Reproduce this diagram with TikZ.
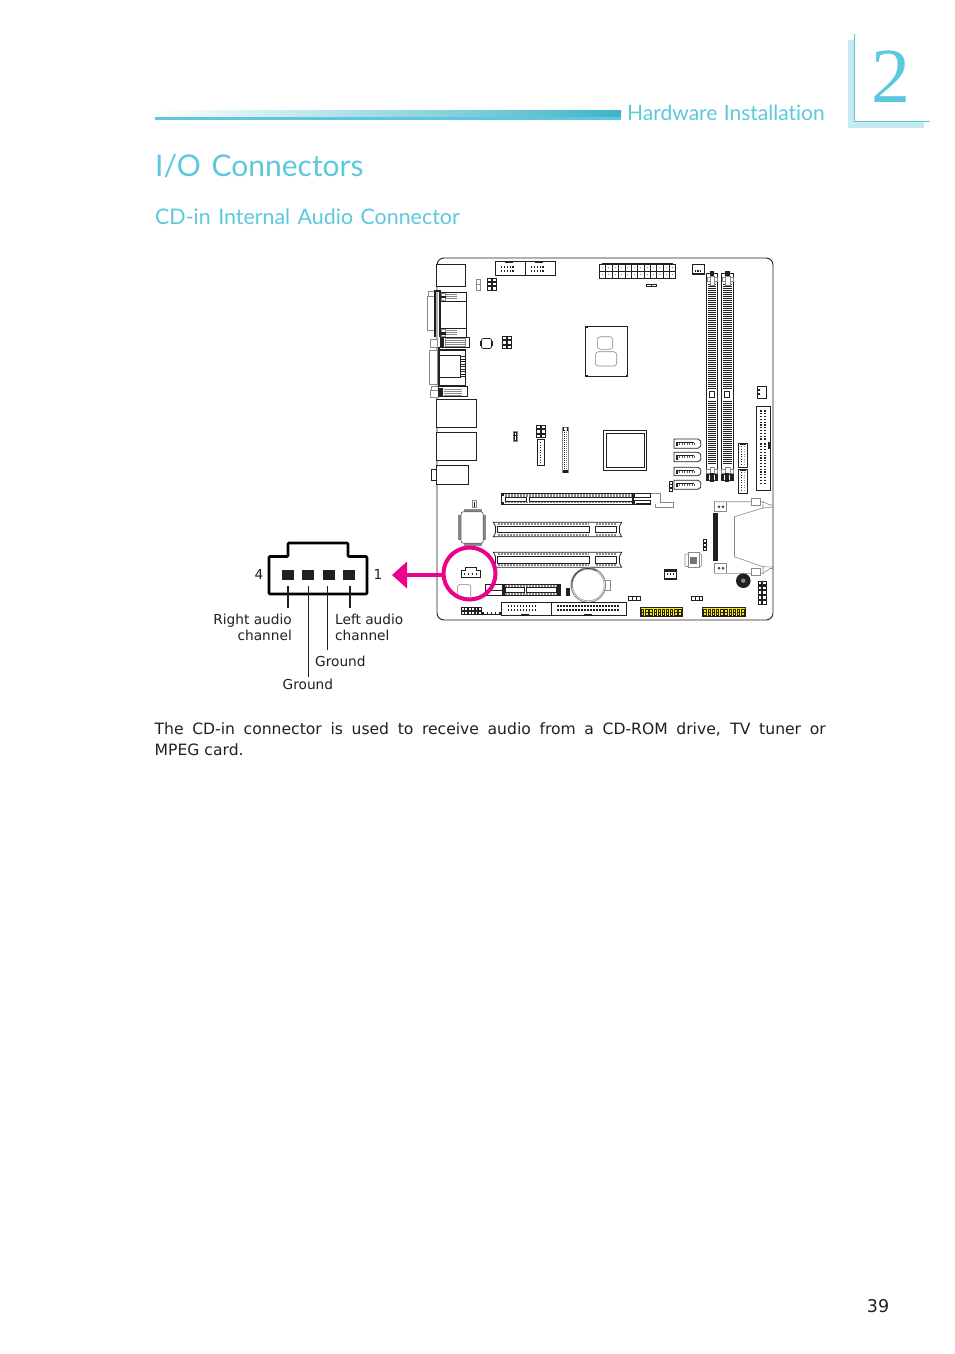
\documentclass[tikz,border=0pt]{standalone}
\usepackage{fontspec}
\setmainfont{DejaVu Sans}
\newfontfamily\headf[Ligatures=NoCommon]{Lato}
\newfontfamily\numf{Liberation Serif}
\usetikzlibrary{arrows.meta}
\definecolor{cy}{HTML}{5BC8DE}
\definecolor{cyl}{HTML}{C5EAF2}
\definecolor{cyd}{HTML}{3FB4C8}
\definecolor{pk}{HTML}{EC008C}
\definecolor{ink}{HTML}{231F20}
\definecolor{gr}{HTML}{8A8A8A}
\definecolor{yl}{HTML}{FFF200}
\tikzset{
  bd/.style={draw=ink,line width=0.75pt},
  gl/.style={draw=gr,line width=0.6pt},
  thn/.style={draw=ink,line width=0.45pt},
  lab/.style={font=\fontsize{13.7}{15}\selectfont,text=ink,inner sep=0pt,align=left},
  wire/.style={draw=ink,line width=1.3pt},
}
\newcommand\bx[4]{\draw[bd,fill=white] (#1,#2) rectangle (#3,#4);}
\newcommand\gx[4]{\draw[gl,fill=white] (#1,#2) rectangle (#3,#4);}
\newcommand\fb[4]{\fill[ink] (#1,#2) rectangle (#3,#4);}
\newcommand\blackgrid[6]{%
  \fill[ink] (#1,#2) rectangle (#3,#4);
  \pgfmathsetmacro\gdx{(#3-#1)/#5}\pgfmathsetmacro\gdy{(#4-#2)/#6}
  \foreach \gi in {1,...,#5}{\foreach \gj in {1,...,#6}{
    \pgfmathsetmacro\gxa{#1+(\gi-1)*\gdx+0.22*\gdx}\pgfmathsetmacro\gya{#2+(\gj-1)*\gdy+0.22*\gdy}
    \pgfmathsetmacro\gxb{#1+\gi*\gdx-0.22*\gdx}\pgfmathsetmacro\gyb{#2+\gj*\gdy-0.22*\gdy}
    \fill[white] (\gxa,\gya) rectangle (\gxb,\gyb);}}}
\newcommand\dotgrid[6]{% x0 dx nx y0 dy ny
  \foreach \gi in {1,...,#3}{\foreach \gj in {1,...,#6}{
    \pgfmathsetmacro\gxa{#1+(\gi-1)*#2}\pgfmathsetmacro\gya{#4+(\gj-1)*#5}
    \fill[ink] (\gxa-0.65,\gya-0.65) rectangle (\gxa+0.65,\gya+0.65);}}}
\newcommand\sata[2]{% y0 y1
  \draw[bd,fill=white] (674,#1) -- (698,#1) -- (700.7,#1+2) -- (700.7,#2-2) -- (698,#2) -- (674,#2) -- cycle;
  \draw[draw=ink,line width=0.8pt] (676,#1+3) -- (694,#1+3);
  \fb{676}{#1+3}{677.5}{#2-2}
  \foreach \sx in {679,681.5,...,694}{\fill[ink!75] (\sx,#1+4) rectangle (\sx+1,#1+5.5);}}
\newcommand\dimm[2]{% x0 x1
  \draw[bd,fill=white] (#1,273) rectangle (#2,480.7);
  \foreach \dy in {284,286,...,388,401,403,...,463}{\draw[draw=ink,line width=0.95pt] (#1+1.8,\dy) -- (#2-1.8,\dy);}
  \draw[bd] (#1+3,391.7) rectangle (#1+7.6,397.3);
  \draw[gl,fill=white] (#1+0.5,277) rectangle (#2-0.5,281.5);
  \draw[gl,fill=white] (#1+3.5,276) rectangle (#2-3.5,285);
  \fb{#1+3.5}{270.5}{#2-3.5}{276}
  \draw[gl,fill=white] (#1,469) rectangle (#2,473.5);
  \draw[gl,fill=white] (#1+3.5,467) rectangle (#2-3.5,473.5);
  \fb{#1+0.5}{474}{#2-0.5}{480.7}
  \fill[white] (#1+3,474.5) rectangle (#1+4.5,480);
  \fill[white] (#2-4.5,474.5) rectangle (#2-3,480);
  \fb{#1+4}{473}{#2-4}{481.5}}
\newcommand\pcislot[2]{% y0 y1
  \draw[bd,fill=white] (493.3,#1) -- (621.7,#1) -- (619.5,#1+4) -- (619.5,#2-4) -- (621.7,#2) -- (493.3,#2) -- (495.5,#2-4) -- (495.5,#1+4) -- cycle;
  \draw[bd] (497.3,#1+4) rectangle (589.7,#2-4);
  \draw[bd] (595.3,#1+4) -- (616.7,#1+4) -- (616.7,#2-4) -- (595.3,#2-4) -- cycle;
  \foreach \px in {498,499.5,...,589}{\draw[draw=gr,line width=0.5pt] (\px,#1+1) -- (\px,#1+3);\draw[draw=gr,line width=0.5pt] (\px,#2-3) -- (\px,#2-1);}
  \foreach \px in {596,597.5,...,616}{\draw[draw=gr,line width=0.5pt] (\px,#1+1) -- (\px,#1+3);\draw[draw=gr,line width=0.5pt] (\px,#2-3) -- (\px,#2-1);}}
\newcommand\yel[2]{% x0 x1
  \fill[yl] (#1,607.7) rectangle (#2,616.7);
  \draw[thn] (#1,607.7) rectangle (#2,616.7);
  \foreach \yx in {0,1,...,9}{
    \pgfmathsetmacro\ya{#1+1+\yx*(#2-#1-1)/10}
    \draw[thn] (\ya,609.5) rectangle (\ya+2.4,612);
    \draw[thn] (\ya,612.3) rectangle (\ya+2.4,615);}}
\begin{document}
\begin{tikzpicture}[x=1pt,y=-1pt]
\useasboundingbox (0,0) rectangle (954,1354);
\fill[white] (0,0) rectangle (954,1354);
%% header
\fill[cyl] (848,40) rectangle (854,128);
\fill[cyl] (848,122) rectangle (924,128);
\draw[draw=cy,line width=0.9pt] (854.5,34) -- (854.5,121.7) -- (930,121.7);
\shade[left color=white,right color=cyd] (155,110) rectangle (621,117.3);
\fill[cy] (155,117.3) rectangle (621,120);
\node[anchor=base,inner sep=0pt,text=cy,font=\numf\fontsize{78}{78}\selectfont] (chap) at (890.5,102) {2};
\node[anchor=base west,inner sep=0pt,text=cy,font=\headf\fontsize{21}{24}\selectfont] (hw) at (627,120) {Hardware\hspace{1pt} Installation};
\node[anchor=base west,inner sep=0pt,text=cy,font=\headf\fontsize{30}{34}\selectfont] (io) at (155,176) {I/O\hspace{3pt} Connectors};
\node[anchor=base west,inner sep=0pt,text=cy,font=\headf\fontsize{21.4}{26}\selectfont] (cd) at (155,224) {CD-in\hspace{2pt} Internal\hspace{2pt} Audio\hspace{2pt} Connector};
%% board
\draw[draw=ink,line width=0.9pt,rounded corners=7pt] (437,258) -- (773,258) -- (773,620) -- (437,620) -- cycle;
%% I/O back panel
\bx{436.3}{264}{465.7}{286.7}
\gx{427.3}{296.7}{435}{330.7}\gx{428.5}{291.5}{435}{296.7}
\bx{440.7}{292.3}{466.7}{337.3}
\draw[bd] (440.7,301) -- (466.7,301) (440.7,328) -- (466.7,328);
\fb{434.3}{290}{436}{337.3}\fb{439}{290}{440.7}{337.3}\fb{434.3}{290}{440.7}{292}
\gx{441}{293}{445}{300}\gx{441}{329}{445}{336}
\fb{441}{295.5}{446}{298}\fb{441}{332}{446}{334.5}
\foreach \ty in {294,296,298,330,332,334}{\draw[gl] (446,\ty) -- (457,\ty);}
\gx{430}{339}{437}{347.7}
\bx{440}{337.3}{469.3}{347.7}
\draw[gl] (445,338.5) rectangle (465,346);
\foreach \ty in {340,342,344}{\draw[gl] (445,\ty) -- (465,\ty);}
\fb{440}{338}{444}{347.7}
\gx{429.3}{350}{437.3}{384.3}
\fb{437.7}{347}{439.7}{388}
\bx{439.7}{349}{465}{385}
\fb{439.7}{349}{465}{351}
\draw[draw=ink,line width=1pt] (440,355) -- (460,355) -- (460,377) -- (440,377);
\foreach \ty in {356,358.5,...,376}{\fill[ink] (460,\ty) rectangle (465,\ty+1.2);}
\gx{431}{386}{438}{393}\gx{430.5}{390}{438}{397}
\bx{438.3}{386.7}{467.7}{396.7}
\fb{438.3}{388}{443}{396.7}
\foreach \ty in {389,391,393,395}{\draw[gl] (444,\ty) -- (462,\ty);}
\bx{436.3}{399.3}{476.7}{427.7}
\bx{436.3}{432.3}{476.7}{460.3}
\bx{436.3}{465.3}{468.3}{484.3}
\bx{431.3}{469.3}{436.3}{480.3}
%% top headers
\bx{495.3}{261.3}{555.7}{275.3}\draw[bd] (525.3,261.3) -- (525.3,275.3);
\fb{505}{261.3}{513}{262.8}\fb{535}{261.3}{543}{262.8}
\dotgrid{501.5}{2.9}{5}{267}{4}{2}\dotgrid{531.5}{2.9}{5}{267}{4}{2}
\draw[gl] (476.7,279) rectangle (480.7,290);\draw[gl] (476.7,284.5) -- (480.7,284.5);
\blackgrid{486.7}{277.7}{496.7}{290.7}{2}{3}
\draw[bd,rounded corners=2pt] (481.5,338.5) rectangle (491.5,348.5);
\fb{480}{341}{481.5}{346}\fb{491.5}{341}{492.7}{346}
\blackgrid{502.3}{336}{512.3}{349.3}{2}{3}
%% power
\fb{601.7}{262.5}{673}{264.5}
\draw[bd,fill=white] (599.3,264) rectangle (675.7,278.3);
\foreach \pi in {1,...,11}{\pgfmathsetmacro\pxx{599.3+\pi*6.367}\draw[thn] (\pxx,264) -- (\pxx,278.3);}
\draw[thn] (599.3,271) -- (675.7,271);
\foreach \pi in {1,...,12}{\pgfmathsetmacro\pxx{596.1+\pi*6.367}\fill[gr] (\pxx-0.5,267) rectangle (\pxx+0.5,268);\fill[gr] (\pxx-0.5,274) rectangle (\pxx+0.5,275);}
\fb{645.7}{284}{657.3}{287.3}\fill[white] (647,285) rectangle (650.5,286.3);\fill[white] (651.5,285) rectangle (656,286.3);
\draw[draw=ink,line width=1.1pt] (692.5,264.5) rectangle (704.5,274);
\dotgrid{695.5}{2.5}{3}{271}{1}{1}
%% CPU
\draw[bd] (585.3,326) rectangle (627.7,376.7);
\fb{585.3}{326}{587.5}{328}\fb{585.3}{374.5}{587.5}{376.7}\fb{625.5}{374.5}{627.7}{376.7}
\draw[gl,rounded corners=3pt] (597.3,336.7) rectangle (612.7,349.3);
\draw[gl,rounded corners=3pt] (595.3,351.7) rectangle (616.7,366);
%% DIMM
\dimm{706.3}{717.7}\dimm{721.3}{733.3}
%% right side
\draw[bd,line width=1pt] (757.3,386) rectangle (766.7,398.7);
\fb{757.3}{389}{760}{391}\fb{757.3}{393}{760}{395}
\bx{756.3}{406.3}{770.7}{490}
\dotgrid{761}{4}{2}{411}{2.8}{11}\dotgrid{761}{4}{2}{444}{2.8}{15}
\fb{768.3}{441.5}{770.7}{449}
%% mid chips
\draw[gl] (513.3,431) rectangle (517.3,441);\fb{513.3}{435}{517.3}{436}\draw[thn] (514.3,432) rectangle (516.3,440);
\blackgrid{535.7}{425}{545.7}{438.3}{2}{3}
\bx{537}{439.3}{544.3}{465.3}
\foreach \my in {442,444.5,...,464}{\fill[ink] (540.3,\my) rectangle (541.3,\my+1.2);}
\draw[gl,fill=white] (562,427) rectangle (568.7,472.7);
\foreach \my in {430,432,...,470}{\fill[ink] (563.6,\my) rectangle (564.8,\my+1);\fill[gr] (566,\my) rectangle (567,\my+1);}
\fb{562.5}{470}{568.2}{472.7}\fb{562.5}{427}{563.5}{431}\fb{567.2}{427}{568.2}{431}
\draw[draw=ink,line width=0.9pt] (603.3,430) rectangle (646.7,470);
\draw[draw=ink,line width=0.9pt] (606,433) rectangle (644,467);
\sata{439}{448.3}\sata{452.3}{461.7}\sata{467.3}{475.7}\sata{480.3}{489.3}
\blackgrid{669}{481}{672.7}{491.7}{1}{3}
\foreach \vy/\vz in {443.3/467.3,469/493.3}{
  \bx{738.3}{\vy}{747.3}{\vz}
  \fb{740}{\vy}{745.5}{\vy+2}
  \foreach \my in {2,4.5,...,21}{\fill[ink] (740.8,\vy+\my+1) rectangle (741.8,\vy+\my+2);\fill[gr] (744,\vy+\my+1) rectangle (745,\vy+\my+2);}}
%% PCIe x16
\draw[gl] (650,493.3) -- (660,493.3) -- (660,502.7) -- (673,502.7) -- (673,507.3) -- (655,507.3) -- (655,504);
\draw[bd,fill=white] (501,493.3) rectangle (633,504);
\fb{501}{493.3}{504}{495.5}\fb{501}{501.5}{504}{504}\fb{632}{493.3}{634}{504.3}
\draw[bd] (505,497.7) rectangle (526.7,501);
\draw[bd] (529,497.7) rectangle (632,501);
\foreach \px in {505,506.5,...,632}{\draw[draw=gr,line width=0.5pt] (\px,494.3) -- (\px,497);\draw[draw=gr,line width=0.5pt] (\px,501.7) -- (\px,503.3);}
\draw[bd,fill=white] (634,493.3) rectangle (650,497.5);
\draw[bd,fill=white] (634,500) rectangle (650,504);\fb{636}{503}{650}{504.4}
%% PCI
\pcislot{522.3}{536.7}\pcislot{552.3}{567.3}
%% SIO chip
\fill[gr] (458.3,515) rectangle (461,540);\fill[gr] (483.3,515) rectangle (486,540);
\fill[gr] (464,509) rectangle (481.7,511.7);\fill[gr] (464,543.3) rectangle (481.7,546);
\draw[draw=ink!70,line width=0.7pt,rounded corners=2.5pt] (461,511.7) rectangle (483.3,543.3);
\draw[gl] (472.7,500.7) rectangle (476,507.7);\fb{473.5}{502}{475.2}{506.5}
%% CD-in connector in board
\draw[bd] (461,570) -- (465.7,570) -- (465.7,567.3) -- (476.7,567.3) -- (476.7,570) -- (480.7,570) -- (480.7,577.7) -- (461,577.7) -- cycle;
\dotgrid{464.5}{4}{4}{574}{1}{1}
\draw[gl,rounded corners=3pt] (457.3,596.7) -- (457.3,584.3) -- (470.7,584.3) -- (470.7,596.7);
%% M.2
\draw[bd,fill=white] (485.3,584.3) rectangle (503,595.7);\draw[bd] (485.3,590) -- (503,590);
\draw[bd,fill=white] (503,584) rectangle (560,595.7);
\fb{501.7}{584}{505}{595.7}\fb{556.7}{584}{560}{595.7}
\draw[bd] (505,587.7) rectangle (524,592.7);\draw[bd] (526,587.7) rectangle (556.7,592.7);
\foreach \px in {505,506.5,...,556}{\draw[draw=gr,line width=0.5pt] (\px,585) -- (\px,587);\draw[draw=gr,line width=0.5pt] (\px,593.3) -- (\px,595);}
\fb{566}{587.7}{570}{595.7}
%% battery
\draw[gl,fill=white] (603,580) -- (610.7,580) -- (610.7,590) -- (603,590);
\draw[draw=gr,line width=1pt,fill=white] (588.3,585) circle[radius=17.3];
\draw[draw=gr,line width=0.5pt] (588.3,585) circle[radius=15.8];
\draw[draw=ink,line width=0.6pt,domain=170:300,samples=30] plot ({588.3+16.5*cos(\x)},{585+16.5*sin(\x)});
%% bottom left
\blackgrid{461}{606.7}{481.7}{615.3}{6}{2}
\fb{481.7}{611.5}{501.3}{614.5}
\foreach \dd in {484,488,...,498}{\fill[white] (\dd,612.4) rectangle (\dd+2.6,613.6);}
\bx{501.3}{602.3}{551}{615.7}\bx{551}{602.3}{626.7}{615.7}
\fb{521}{613.7}{529}{615.7}\fb{584}{613.7}{592}{615.7}
\dotgrid{508.5}{3}{10}{606}{4}{2}\dotgrid{558}{3}{21}{606}{4}{2}
\yel{640.3}{682.7}\yel{702.7}{745.7}
\foreach \xa in {628.3,691}{\draw[bd,line width=1pt] (\xa,596) rectangle (\xa+11.7,600);\fb{\xa+3.5}{596}{\xa+4.5}{600}\fb{\xa+7.5}{596}{\xa+8.5}{600}}
\draw[draw=ink,line width=1.2pt] (664.8,569.8) rectangle (676.2,579);
\foreach \fy in {667,669.8,672.6}{\fb{\fy}{573}{\fy+1.3}{575}}
\fb{664.3}{569.3}{676.7}{571.5}
%% small chip
\draw[gl,fill=white,rounded corners=1pt] (685,554) rectangle (701.7,566.5);
\draw[gl,fill=white] (688,552.7) rectangle (699,567.7);
\fill[gr!85!black] (689.5,556.5) rectangle (697.3,564.3);
\blackgrid{703.3}{539.3}{707.3}{550.7}{1}{3}
%% CF card
\draw[gl] (714,501.7) -- (752,501.7) -- (763,501.7) -- (770,505) -- (773,505) (714,573.3) -- (752,573.3) -- (763,573.3) -- (770,568.5) -- (773,568.5);
\draw[gl] (714,501.7) -- (714,511.7) -- (726.7,511.7) -- (726.7,501.7) (714,573.3) -- (714,563.3) -- (726.7,563.3) -- (726.7,573.3);
\draw[gl] (734.3,516.7) -- (763,508) -- (763,501.7) (734.3,556.7) -- (763,566.7) -- (763,573.3);
\draw[gl] (734.3,516.7) -- (734.3,556.7);
\gx{751}{498.5}{760}{505}\gx{751}{568.5}{760}{575}
\draw[gl] (763,508) -- (773,507);\draw[gl] (763,566.7) -- (773,567);
\fb{712.7}{513.3}{717.7}{560.7}
\draw[thn] (719,506.7) circle[radius=1];\draw[thn] (723,506.7) circle[radius=1];
\draw[thn] (719,568.3) circle[radius=1];\draw[thn] (723,568.3) circle[radius=1];
\fill[ink] (743.3,580.7) circle[radius=7.3];\fill[gr] (743.3,580.7) circle[radius=2.2];
\blackgrid{757.7}{580.7}{767}{605}{2}{5}
%% highlight
\coordinate (tipA) at (392,575);
\coordinate (circW) at (443.5,575);
\draw[draw=pk,line width=4pt] (469.5,573.5) circle[radius=26];
\draw[draw=pk,line width=4pt,-{Triangle[length=15pt,width=26pt,fill=pk]}] (circW) -- (tipA);
%% big connector
\draw[draw=black,line width=2.8pt,line join=round,rounded corners=1pt] (269,556.5) -- (288,556.5) -- (288,543) -- (348,543) -- (348,556.5) -- (367,556.5) -- (367,594) -- (269,594) -- cycle;
\foreach \pn/\px in {a/282,b/302,c/323,d/343}{
  \fill[ink] (\px,570) rectangle (\px+12,580);}
\coordinate (endA) at (288,607.5);
\coordinate (pinb2) at (308.7,585.7);\coordinate (endB) at (308.7,677);
\coordinate (pinc2) at (327.7,585.7);\coordinate (endC) at (327.7,650);
\coordinate (pina2) at (288,585.7);
\coordinate (pind2) at (350,585.7);\coordinate (endD) at (350,607.5);
\draw[wire] (pina2) -- (endA);\draw[wire] (pinb2) -- (endB);\draw[wire] (pinc2) -- (endC);\draw[wire] (pind2) -- (endD);
\node[lab,anchor=base] (n4) at (259,579) {4};
\node[lab,anchor=base] (n1) at (378,579) {1};
\node[lab,anchor=base east,align=right] (ra) at (292,624) {Right audio};
\node[lab,anchor=base east,align=right] (rb) at (292,640) {channel};
\node[lab,anchor=base west] (la) at (335,624) {Left audio};
\node[lab,anchor=base west] (lb) at (335,640) {channel};
\node[lab,anchor=base west] (g1) at (315,666) {Ground};
\node[lab,anchor=base west] (g2) at (282.5,689) {Ground};
%% body
\node[anchor=base west,inner sep=0pt,text=ink,font=\fontsize{15.6}{21}\selectfont] (body) at (154.5,734.5) {\makebox[671pt][s]{The CD-in connector is used to receive audio from a CD-ROM drive, TV tuner or}};
\node[anchor=base west,inner sep=0pt,text=ink,font=\fontsize{15.6}{21}\selectfont] (body2) at (154.5,755.5) {MPEG card.};
\node[anchor=base,inner sep=0pt,text=ink,font=\fontsize{17.5}{20}\selectfont] (page) at (878,1312) {39};
\end{tikzpicture}
\end{document}
